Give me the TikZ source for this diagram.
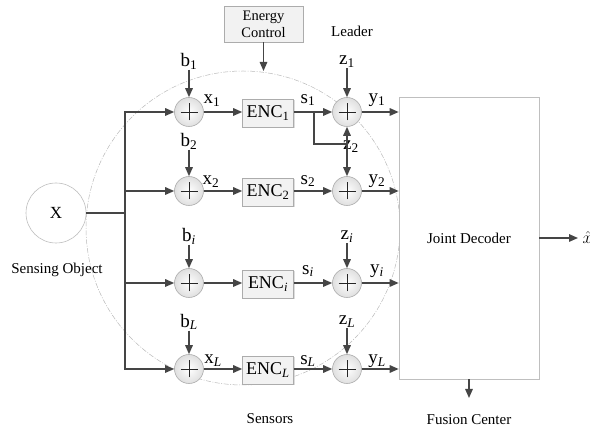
\documentclass[tikz,border=0pt]{standalone}
\usepackage{fontspec}
\setmainfont{Liberation Serif}
\usetikzlibrary{arrows.meta,shadows,calc}
\definecolor{lc}{HTML}{454545}
\begin{document}
\begin{tikzpicture}[x=1pt,y=-1pt,
  lbl/.style={font=\fontsize{19}{21}\selectfont, inner sep=0.5pt, text=black},
  txt/.style={font=\fontsize{15}{17}\selectfont, inner sep=1pt, text=black},
  adder/.style={circle, minimum size=29pt, inner sep=0pt, draw=gray!65, line width=0.6pt,
    inner color=white, outer color=gray!25,
    path picture={\draw[line width=0.9pt,black!85] ($(path picture bounding box.center)+(-8.5pt,0)$) -- ($(path picture bounding box.center)+(8.5pt,0)$);
      \draw[line width=0.9pt,black!85] ($(path picture bounding box.center)+(0,-8.5pt)$) -- ($(path picture bounding box.center)+(0,8.5pt)$);}},
  encbox/.style={rectangle, minimum width=51pt, minimum height=28pt, inner sep=0pt, draw=gray!65, line width=0.6pt,
    fill=gray!10, drop shadow={shadow xshift=1.2pt, shadow yshift=-1.2pt, fill=gray!45, opacity=0.6},
    font=\fontsize{18}{20}\selectfont},
  arr/.style={-{Triangle[length=9pt,width=7.5pt]}, line width=1.5pt, draw=lc},
  ln/.style={line width=1.5pt, draw=lc},
  arc/.style={draw=gray!55, line width=0.5pt, dash pattern=on 5pt off 1.5pt on 1pt off 1.5pt}
]
\useasboundingbox (0,0) rectangle (590,430);

% sensors dashed circle
\draw[arc] (243,228) circle (157);

% sensing object
\node[circle, minimum size=60pt, draw=gray!50, line width=0.6pt, fill=white, font=\fontsize{17}{19}\selectfont, inner sep=0pt] (X) at (56,213) {X};
\node[txt] (so) at (57,270) {Sensing Object};

% adders column 1
\node[adder] (a1) at (189,112) {};
\node[adder] (a2) at (189,191) {};
\node[adder] (ai) at (189,283) {};
\node[adder] (aL) at (189,369) {};

% encoders
\node[encbox] (e1) at (268,113) {ENC\textsubscript{1}};
\node[encbox] (e2) at (268,192) {ENC\textsubscript{2}};
\node[encbox] (ei) at (268,284) {ENC\textsubscript{\textit{i}}};
\node[encbox] (eL) at (268,370) {ENC\textsubscript{\textit{L}}};

% adders column 2
\node[adder] (c1) at (347,112) {};
\node[adder] (c2) at (347,191) {};
\node[adder] (ci) at (347,283) {};
\node[adder] (cL) at (347,369) {};

% decoder
\node[rectangle, minimum width=140pt, minimum height=282pt, draw=gray!50, line width=0.6pt, fill=white, inner sep=0pt] (dec) at (469,238) {};
\node[txt] (jd) at (469,238) {Joint Decoder};

% energy control
\node[rectangle, minimum width=79pt, minimum height=36pt, inner sep=0pt, draw=gray!65, line width=0.6pt, fill=gray!10,
  drop shadow={shadow xshift=1.2pt, shadow yshift=-1.2pt, fill=gray!45, opacity=0.6},
  font=\fontsize{14.5}{17}\selectfont, align=center] (ec) at (263.5,24) {Energy\\Control};
\coordinate (ectip) at (263.5,71);
\draw[arr] (ec.south) -- (ectip);

\node[txt] (leader) at (352,31) {Leader};
\node[txt] (sensors) at (270,419) {Sensors};
\node[txt] (fc) at (469,420) {Fusion Center};

% bus
\coordinate (bus) at (125,213);
\draw[ln] (X.east) -- (bus);
\draw[arr] (bus) |- (a1.west);
\draw[arr] (bus) |- (a2.west);
\draw[arr] (bus) |- (ai.west);
\draw[arr] (bus) |- (aL.west);

% b labels
\node[lbl] (b1) at (189,61) {b\textsubscript{1}};
\node[lbl] (b2) at (189,141) {b\textsubscript{2}};
\node[lbl] (bi) at (189,236) {b\textsubscript{\textit{i}}};
\node[lbl] (bL) at (189,322) {b\textsubscript{\textit{L}}};
\draw[arr] (b1.south) -- (a1.north);
\draw[arr] (b2.south) -- (a2.north);
\draw[arr] (bi.south) -- (ai.north);
\draw[arr] (bL.south) -- (aL.north);

% adder -> encoder
\draw[arr] (a1.east) -- (e1.west |- a1);
\draw[arr] (a2.east) -- (e2.west |- a2);
\draw[arr] (ai.east) -- (ei.west |- ai);
\draw[arr] (aL.east) -- (eL.west |- aL);
\node[lbl] (x1) at (212,101) {x\textsubscript{1}};
\node[lbl] (x2) at (211,182) {x\textsubscript{2}};
\node[lbl] (xL) at (213,361) {x\textsubscript{\textit{L}}};

% encoder -> adder2
\draw[arr] (e1.east |- c1) -- (c1.west);
\draw[arr] (e2.east |- c2) -- (c2.west);
\draw[arr] (ei.east |- ci) -- (ci.west);
\draw[arr] (eL.east |- cL) -- (cL.west);
\node[lbl] (s1) at (308,100) {s\textsubscript{1}};
\node[lbl] (s2) at (308,181) {s\textsubscript{2}};
\node[lbl] (si) at (308,271) {s\textsubscript{\textit{i}}};
\node[lbl] (sL) at (308,361) {s\textsubscript{\textit{L}}};

% z labels
\node[lbl] (z1) at (347,62) {z\textsubscript{1}};
\node[lbl] (zi) at (347,237) {z\textsubscript{\textit{i}}};
\node[lbl] (zL) at (347,322) {z\textsubscript{\textit{L}}};
\node[lbl] (z2) at (351,147) {z\textsubscript{2}};
\draw[arr] (z1.south) -- (c1.north);
\draw[arr] (zi.south) -- (ci.north);
\draw[arr] (zL.south) -- (cL.north);

% leader branch
\coordinate (br) at (314,112);
\coordinate (zj) at (347,144);
\draw[arr] (br) |- (zj) -- (c1.south);
\draw[arr] (zj) -- (c2.north);

% adder2 -> decoder
\draw[arr] (c1.east) -- (dec.west |- c1);
\draw[arr] (c2.east) -- (dec.west |- c2);
\draw[arr] (ci.east) -- (dec.west |- ci);
\draw[arr] (cL.east) -- (dec.west |- cL);
\node[lbl] (y1) at (377,100) {y\textsubscript{1}};
\node[lbl] (y2) at (377,181) {y\textsubscript{2}};
\node[lbl] (yi) at (377,271) {y\textsubscript{\textit{i}}};
\node[lbl] (yL) at (377,361) {y\textsubscript{\textit{L}}};

% decoder outputs
\coordinate (out) at (578,238);
\draw[arr] (dec.east) -- (out);
\node[lbl, anchor=west] (xhat) at (582,238) {$\hat{x}$};
\coordinate (fcin) at (469,398);
\draw[arr] (dec.south) -- (fcin);
\end{tikzpicture}
\end{document}
